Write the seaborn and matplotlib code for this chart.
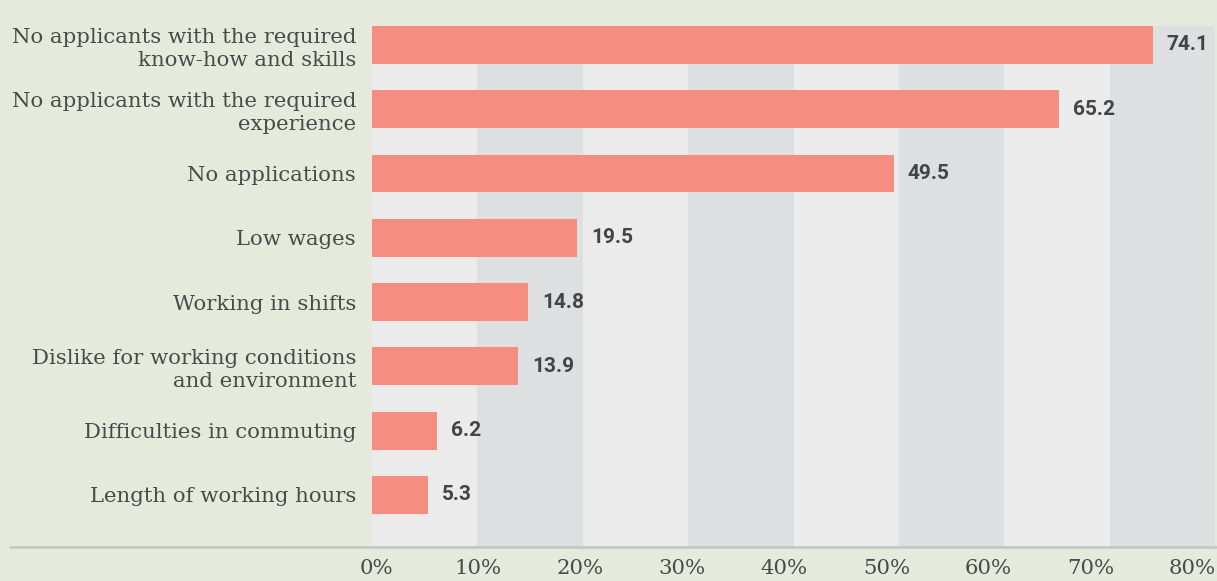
import matplotlib
matplotlib.use("Agg")
import matplotlib.pyplot as plt
from matplotlib.lines import Line2D
from matplotlib.transforms import ScaledTranslation
import seaborn as sns

categories = [
    "No applicants with the required\nknow-how and skills",
    "No applicants with the required\nexperience",
    "No applications",
    "Low wages",
    "Working in shifts",
    "Dislike for working conditions\nand environment",
    "Difficulties in commuting",
    "Length of working hours",
]
values = [74.1, 65.2, 49.5, 19.5, 14.8, 13.9, 6.2, 5.3]
xticks = [0, 10, 20, 30, 40, 50, 60, 70, 80]
xtick_labels = ["0%", "10%", "20%", "30%", "40%", "50%", "60%", "70%", "80%"]

BG = "#e6eadc"
LIGHT = "#ebebeb"
DARK = "#dedfe1"
BAR = "#f58d80"
TXT = "#4a4a4a"

sns.set_theme(style="white")
plt.rcParams["font.family"] = ["DejaVu Serif"]

W, H = 1217, 581
fig = plt.figure(figsize=(W / 100, H / 100), dpi=100, facecolor=BG)
ax = fig.add_axes([372 / W, 1 - 547 / H, (1215 - 372) / W, (547 - 26) / H])
ax.set_facecolor(LIGHT)

for i in range(len(xticks) - 1):
    ax.axvspan(xticks[i], xticks[i + 1], color=LIGHT if i % 2 == 0 else DARK,
               lw=0, zorder=0)

sns.barplot(x=values, y=categories, color=BAR, width=0.59, saturation=1,
            orient="h", ax=ax, zorder=2, linewidth=0, edgecolor=BAR)

ax.set_xlim(0, 80)
ax.set_ylim(7.81, -0.295)
ax.set_xticks(xticks)
ax.set_xticklabels(xtick_labels, fontsize=15.3, color=TXT)
ax.tick_params(axis="x", length=0, pad=9)
ax.tick_params(axis="y", length=0, pad=11.5, labelsize=15.3, labelcolor=TXT)
for lab in ax.get_yticklabels():
    lab.set_horizontalalignment("right")
    lab.set_linespacing(1.25)
# tick labels in the reference sit on a slightly narrower spacing than the bands
for k, lab in enumerate(ax.get_xticklabels()):
    dx = 4 - 3.3 * k
    lab.set_transform(lab.get_transform() + ScaledTranslation(dx / 100, 0, fig.dpi_scale_trans))
for s in ax.spines.values():
    s.set_visible(False)
ax.set_xlabel("")
ax.set_ylabel("")
ax.grid(False)

for i, v in enumerate(values):
    ax.annotate(f"{v}", xy=(v, i), xytext=(14, 0), textcoords="offset pixels",
                ha="left", va="center", fontsize=15, fontweight="bold",
                family=["Roboto", "DejaVu Sans"], color="#444444")

fig.add_artist(Line2D([10 / W, 1], [1 - 547 / H, 1 - 547 / H],
                      transform=fig.transFigure, color="#c4c4c4", lw=1.8))

fig.savefig("out.png", dpi=100, facecolor=BG)
